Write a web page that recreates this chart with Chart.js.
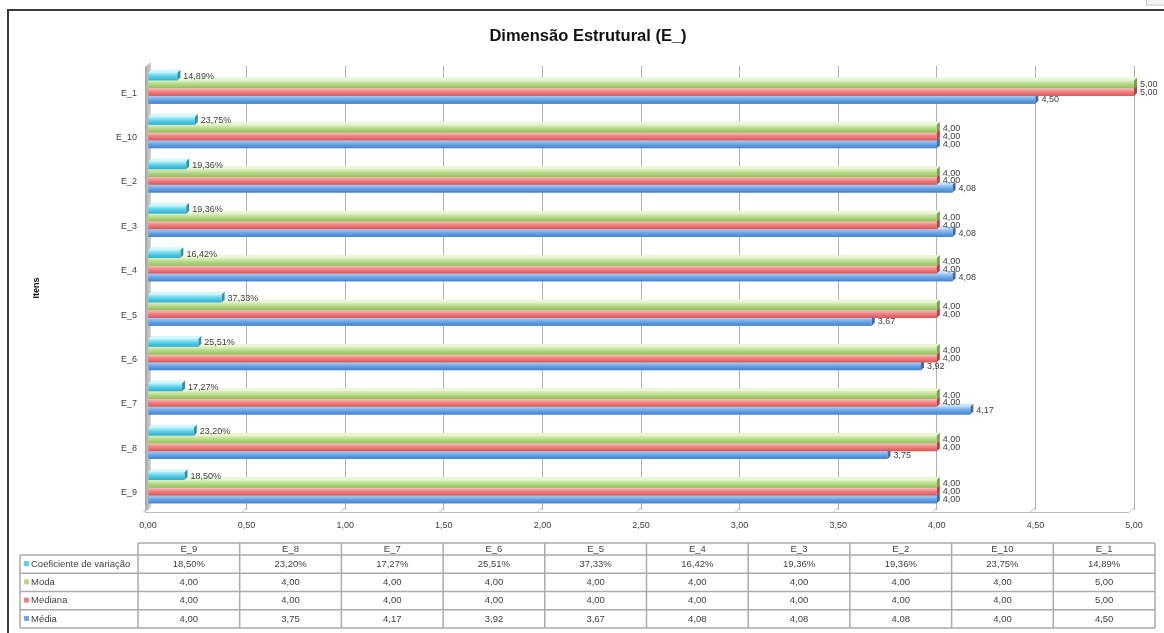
<!DOCTYPE html>
<html>
<head>
<meta charset="utf-8">
<title>Dimensão Estrutural (E_)</title>
<script src="https://cdn.jsdelivr.net/npm/chart.js@4.4.1/dist/chart.umd.min.js"></script>
<style>
  html, body { margin: 0; padding: 0; background: #ffffff; }
  #wrap { position: relative; width: 1164px; height: 633px; }
  canvas { display: block; }
</style>
</head>
<body>
<div id="wrap"><canvas id="chart" width="1164" height="633"></canvas></div>
<script>
// Items in worksheet order (first item sits at the bottom of the chart)
const categories = ['E_9', 'E_8', 'E_7', 'E_6', 'E_5', 'E_4', 'E_3', 'E_2', 'E_10', 'E_1'];

// Statistics per item
const coefVariacao = [0.1850, 0.2320, 0.1727, 0.2551, 0.3733, 0.1642, 0.1936, 0.1936, 0.2375, 0.1489];
const moda         = [4.00, 4.00, 4.00, 4.00, 4.00, 4.00, 4.00, 4.00, 4.00, 5.00];
const mediana      = [4.00, 4.00, 4.00, 4.00, 4.00, 4.00, 4.00, 4.00, 4.00, 5.00];
const media        = [4.00, 3.75, 4.17, 3.92, 3.67, 4.08, 4.08, 4.08, 4.00, 4.50];

const seriesNames = ['Coeficiente de variação', 'Moda', 'Mediana', 'Média'];
const chartTitle = 'Dimensão Estrutural (E_)';
const axisTitle = 'Itens';

const FONT = '"Liberation Sans", Arial, sans-serif';
const TEXT = '#404040';

// Shading for the pseudo-3D bars: [top highlight, body, bottom shade, end cap, top face]
const shades = [
  ['#b4f0fa', '#5ccfe8', '#2eaccb', '#2794b0', '#d2f6fc'],
  ['#e0f0c4', '#b6da8a', '#8fbf58', '#76a444', '#eaf5d6'],
  ['#fbc0c0', '#f08282', '#d85656', '#b84242', '#fcd6d6'],
  ['#a8d0f6', '#6ca8e6', '#4482cb', '#376cae', '#c8e0fa']
];

const comma = (v, d) => v.toFixed(d).replace('.', ',');
const fmt = (dsIndex, v) => dsIndex === 0 ? comma(v * 100, 2) + '%' : comma(v, 2);

const DEPTH = 3;

// White page, outer frame of the chart object and its centred title
const framePlugin = {
  id: 'frame',
  beforeDraw(chart) {
    const ctx = chart.ctx;
    ctx.save();
    ctx.fillStyle = '#ffffff';
    ctx.fillRect(0, 0, chart.width, chart.height);
    ctx.strokeStyle = '#3a3a3a';
    ctx.lineWidth = 2;
    ctx.beginPath();
    ctx.moveTo(8, chart.height);
    ctx.lineTo(8, 10);
    ctx.lineTo(chart.width, 10);
    ctx.stroke();
    ctx.strokeStyle = '#c8c8c8';
    ctx.lineWidth = 1;
    ctx.fillStyle = '#f4f4f4';
    ctx.fillRect(1146, -1, 20, 6);
    ctx.strokeRect(1146.5, -1, 20, 6);

    ctx.fillStyle = '#111111';
    ctx.font = 'bold 16.5px ' + FONT;
    ctx.textAlign = 'center';
    ctx.textBaseline = 'middle';
    ctx.fillText(chartTitle, (8 + chart.width) / 2 + 2, 36);
    ctx.restore();
  }
};

// Side wall and floor of the 3D plot area
const wallPlugin = {
  id: 'wall',
  beforeDatasetsDraw(chart) {
    const { ctx, chartArea: a, scales } = chart;
    ctx.save();
    // left wall
    const g = ctx.createLinearGradient(a.left - DEPTH, 0, a.left + DEPTH, 0);
    g.addColorStop(0, '#a4a4a4');
    g.addColorStop(1, '#d4d4d4');
    ctx.fillStyle = g;
    ctx.beginPath();
    ctx.moveTo(a.left - DEPTH, a.top + 1);
    ctx.lineTo(a.left + DEPTH, a.top - 4);
    ctx.lineTo(a.left + DEPTH, a.bottom - 3);
    ctx.lineTo(a.left - DEPTH, a.bottom + 2);
    ctx.closePath();
    ctx.fill();
    // floor edge with slanted joins under every gridline
    ctx.strokeStyle = '#bdbdbd';
    ctx.lineWidth = 1;
    ctx.beginPath();
    ctx.moveTo(a.left - DEPTH, a.bottom + 2.5);
    ctx.lineTo(a.right - 5, a.bottom + 2.5);
    scales.x.ticks.forEach(t => {
      const gx = Math.round(scales.x.getPixelForValue(t.value));
      ctx.moveTo(gx - 5, a.bottom + 2.5);
      ctx.lineTo(gx + 0.5, a.bottom - 3);
    });
    ctx.stroke();
    ctx.restore();
  }
};

// Shaded bar faces, drawn bottom series first so upper bars overlap the faces below
const bars3dPlugin = {
  id: 'bars3d',
  afterDatasetsDraw(chart) {
    const ctx = chart.ctx;
    ctx.save();
    for (let di = chart.data.datasets.length - 1; di >= 0; di--) {
      const meta = chart.getDatasetMeta(di);
      const s = shades[di];
      meta.data.forEach(el => {
        const p = el.getProps(['x', 'y', 'base', 'height'], true);
        const top = p.y - p.height / 2;
        const bot = p.y + p.height / 2;
        const left = p.base;
        const right = p.x;
        // top face
        ctx.fillStyle = s[4];
        ctx.beginPath();
        ctx.moveTo(left, top);
        ctx.lineTo(left + DEPTH, top - DEPTH);
        ctx.lineTo(right + DEPTH, top - DEPTH);
        ctx.lineTo(right, top);
        ctx.closePath();
        ctx.fill();
        // end cap
        ctx.fillStyle = s[3];
        ctx.beginPath();
        ctx.moveTo(right, top);
        ctx.lineTo(right + DEPTH, top - DEPTH);
        ctx.lineTo(right + DEPTH, bot - DEPTH);
        ctx.lineTo(right, bot);
        ctx.closePath();
        ctx.fill();
        // front face
        const g = ctx.createLinearGradient(0, top, 0, bot);
        g.addColorStop(0, s[0]);
        g.addColorStop(0.45, s[1]);
        g.addColorStop(1, s[2]);
        ctx.fillStyle = g;
        ctx.fillRect(left, top, right - left, bot - top);
      });
    }
    ctx.restore();
  }
};

// Value labels at the bar ends
const labelPlugin = {
  id: 'valueLabels',
  afterDatasetsDraw(chart) {
    const ctx = chart.ctx;
    ctx.save();
    ctx.font = '9px ' + FONT;
    ctx.fillStyle = TEXT;
    ctx.textAlign = 'left';
    ctx.textBaseline = 'middle';
    chart.data.datasets.forEach((ds, di) => {
      chart.getDatasetMeta(di).data.forEach((el, i) => {
        const p = el.getProps(['x', 'y'], true);
        ctx.fillText(fmt(di, ds.data[i]), p.x + DEPTH + 3, p.y);
      });
    });
    ctx.restore();
  }
};

// Data table under the chart
const tablePlugin = {
  id: 'dataTable',
  afterDraw(chart) {
    const ctx = chart.ctx;
    const x0 = 20, c0 = 138, c1 = 1155;
    const colW = (c1 - c0) / categories.length;
    const yHead = 543, yBody = 555, rowH = 18.25;
    const nRows = chart.data.datasets.length;
    const yEnd = yBody + rowH * nRows;
    ctx.save();
    ctx.strokeStyle = '#ababab';
    ctx.lineWidth = 1.5;
    ctx.beginPath();
    // horizontal rules
    ctx.moveTo(c0, yHead); ctx.lineTo(c1, yHead);
    for (let r = 0; r <= nRows; r++) {
      const y = yBody + r * rowH;
      ctx.moveTo(x0, y); ctx.lineTo(c1, y);
    }
    // vertical rules
    ctx.moveTo(x0, yBody); ctx.lineTo(x0, yEnd);
    for (let c = 0; c <= categories.length; c++) {
      const x = c0 + c * colW;
      ctx.moveTo(x, yHead); ctx.lineTo(x, yEnd);
    }
    ctx.stroke();

    ctx.font = '9.5px ' + FONT;
    ctx.fillStyle = TEXT;
    ctx.textBaseline = 'middle';
    ctx.textAlign = 'center';
    categories.forEach((c, i) => ctx.fillText(c, c0 + colW * (i + 0.5), (yHead + yBody) / 2 + 0.5));

    chart.data.datasets.forEach((ds, di) => {
      const yc = yBody + rowH * (di + 0.5);
      ctx.fillStyle = shades[di][1];
      ctx.fillRect(24, yc - 3, 5, 5);
      ctx.fillStyle = TEXT;
      ctx.textAlign = 'left';
      ctx.fillText(ds.label, 31, yc);
      ctx.textAlign = 'center';
      ds.data.forEach((v, i) => ctx.fillText(fmt(di, v), c0 + colW * (i + 0.5), yc));
    });
    ctx.restore();
  }
};

const seriesData = [coefVariacao, moda, mediana, media];

new Chart(document.getElementById('chart'), {
  type: 'bar',
  data: {
    labels: categories,
    datasets: seriesNames.map((name, i) => ({
      label: name,
      data: seriesData[i],
      backgroundColor: shades[i][1],
      borderWidth: 0,
      categoryPercentage: 0.7,
      barPercentage: 1.0
    }))
  },
  options: {
    indexAxis: 'y',
    responsive: false,
    animation: false,
    events: [],
    layout: { padding: { top: 66, left: 28, right: 30, bottom: 98 } },
    plugins: {
      legend: { display: false },
      tooltip: { enabled: false },
      title: { display: false }
    },
    scales: {
      x: {
        min: 0,
        max: 5,
        ticks: {
          stepSize: 0.5,
          color: TEXT,
          font: { family: FONT, size: 9 },
          padding: 10,
          callback: v => comma(v, 2)
        },
        grid: { color: '#b0b0b0', drawTicks: false },
        border: { display: false },
        afterFit: s => { s.height = 25; }
      },
      y: {
        reverse: true,
        ticks: {
          color: TEXT,
          font: { family: FONT, size: 9 },
          padding: 11,
          labelOffset: 5
        },
        grid: { display: false, drawTicks: false },
        border: { display: false },
        title: {
          display: true,
          text: axisTitle,
          color: '#111111',
          font: { family: FONT, size: 9, weight: 'bold' },
          padding: { top: 3, bottom: 0 }
        },
        afterFit: s => { s.width = 120; }
      }
    }
  },
  plugins: [framePlugin, wallPlugin, bars3dPlugin, labelPlugin, tablePlugin]
});
</script>
</body>
</html>
